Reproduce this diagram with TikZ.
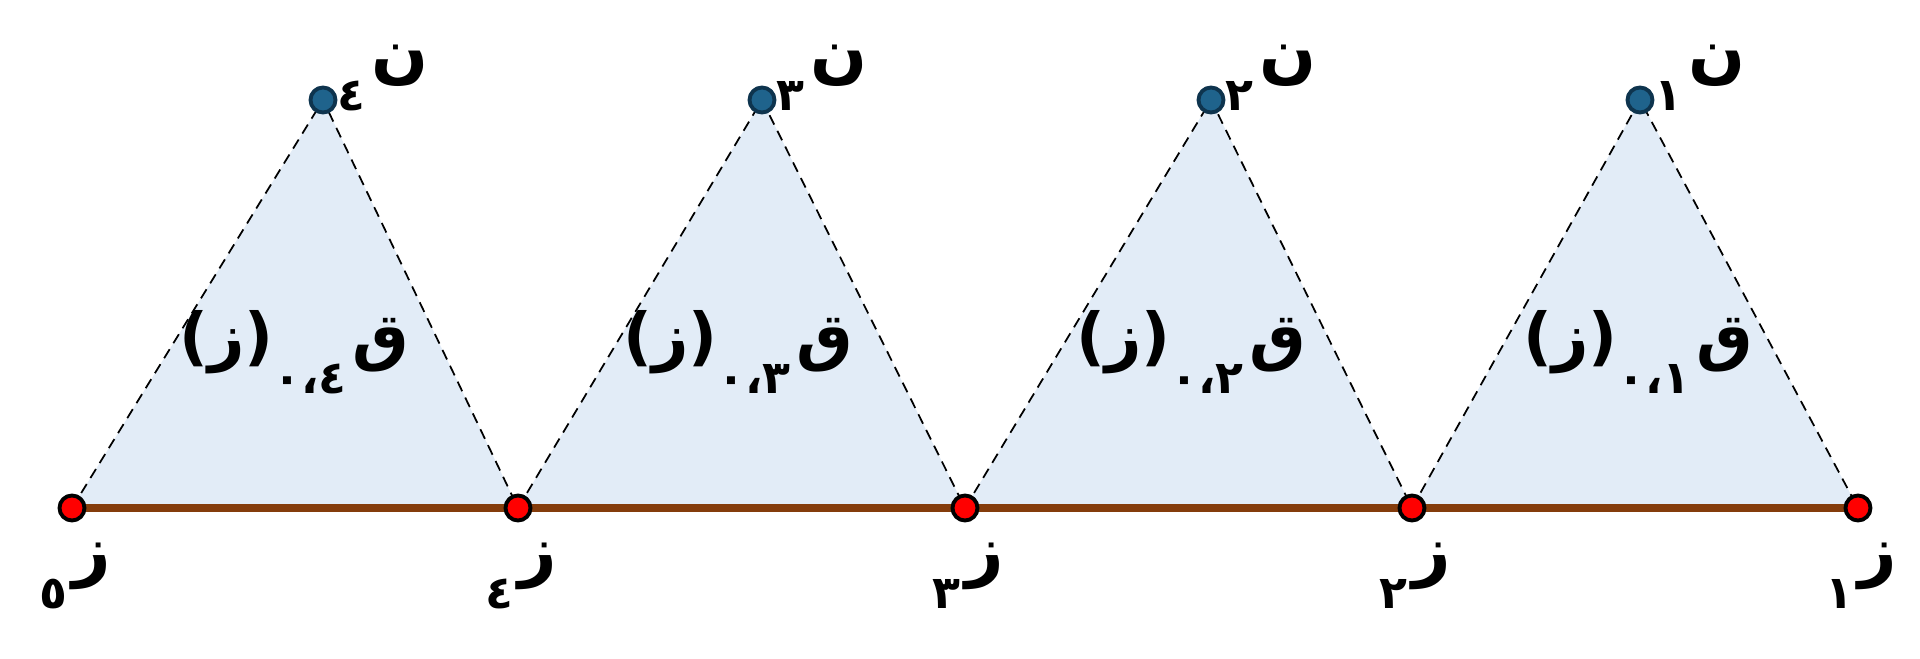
\documentclass[tikz,border=0pt]{standalone}
\usepackage{fontspec}
\usepackage{xcolor}
\usepackage{tikz}
\usetikzlibrary{positioning}
\TeXXeTstate=1
\newfontfamily\arabicfont[Script=Arabic]{DejaVu Sans}
\definecolor{triblue}{RGB}{226,236,247}
\definecolor{basebrown}{RGB}{132,60,12}
\definecolor{topfill}{RGB}{31,99,140}
\definecolor{topline}{RGB}{14,52,78}
\newcommand{\arsub}[1]{\kern1.5pt\raisebox{-10pt}{\fontsize{13}{15}\selectfont #1}}
\tikzset{
  zdot/.style={circle,fill=red,draw=black,line width=1.1pt,minimum size=0.25cm,inner sep=0pt},
  ndot/.style={circle,fill=topfill,draw=topline,line width=1.1pt,minimum size=0.25cm,inner sep=0pt},
  lbl/.style={font=\arabicfont\bfseries\fontsize{19}{22}\selectfont,inner sep=0pt},
  trilbl/.style={font=\arabicfont\bfseries\fontsize{18}{22}\selectfont,inner sep=0pt},
  side/.style={dash pattern=on 3pt off 2pt,line width=0.5pt},
}
\begin{document}
\begin{tikzpicture}[x=0.01cm,y=-0.01cm]
\useasboundingbox (0,0) rectangle (1920,659);
% base points z1..z5 (right to left) and tops n1..n4
\coordinate (z5) at (72,508);
\coordinate (z4) at (518,508);
\coordinate (z3) at (965,508);
\coordinate (z2) at (1412,508);
\coordinate (z1) at (1858,508);
\coordinate (n4) at (323,100);
\coordinate (n3) at (762,100);
\coordinate (n2) at (1211,100);
\coordinate (n1) at (1640,100);

% shaded triangles
\fill[triblue] (z5) -- (n4) -- (z4) -- cycle;
\fill[triblue] (z4) -- (n3) -- (z3) -- cycle;
\fill[triblue] (z3) -- (n2) -- (z2) -- cycle;
\fill[triblue] (z2) -- (n1) -- (z1) -- cycle;

% dashed sides
\draw[side] (z5) -- (n4) -- (z4);
\draw[side] (z4) -- (n3) -- (z3);
\draw[side] (z3) -- (n2) -- (z2);
\draw[side] (z2) -- (n1) -- (z1);

% base line
\draw[basebrown,line width=2.3pt] (z5) -- (z1);

% dots
\node[zdot] (pz5) at (z5) {};
\node[zdot] (pz4) at (z4) {};
\node[zdot] (pz3) at (z3) {};
\node[zdot] (pz2) at (z2) {};
\node[zdot] (pz1) at (z1) {};
\node[ndot] (pn4) at (n4) {};
\node[ndot] (pn3) at (n3) {};
\node[ndot] (pn2) at (n2) {};
\node[ndot] (pn1) at (n1) {};

% labels of base points
\node[lbl,below=0.2cm of pz5,xshift=1pt] (lz5) {\beginR ز\arsub{٥}\endR};
\node[lbl,below=0.2cm of pz4,xshift=1pt] (lz4) {\beginR ز\arsub{٤}\endR};
\node[lbl,below=0.2cm of pz3,xshift=1pt] (lz3) {\beginR ز\arsub{٣}\endR};
\node[lbl,below=0.2cm of pz2,xshift=1pt] (lz2) {\beginR ز\arsub{٢}\endR};
\node[lbl,below=0.2cm of pz1,xshift=1pt] (lz1) {\beginR ز\arsub{١}\endR};

% labels of tops
\node[lbl] (ln4) at ([shift={(60,-22)}]n4) {\beginR ن\arsub{٤}\endR};
\node[lbl] (ln3) at ([shift={(60,-22)}]n3) {\beginR ن\arsub{٣}\endR};
\node[lbl] (ln2) at ([shift={(60,-22)}]n2) {\beginR ن\arsub{٢}\endR};
\node[lbl] (ln1) at ([shift={(60,-22)}]n1) {\beginR ن\arsub{١}\endR};

% triangle texts
\node[trilbl] (q4) at (294,352) {\beginR ق\arsub{٠،٤}(ز)\endR};
\node[trilbl] (q3) at (738,352) {\beginR ق\arsub{٠،٣}(ز)\endR};
\node[trilbl] (q2) at (1191,352) {\beginR ق\arsub{٠،٢}(ز)\endR};
\node[trilbl] (q1) at (1638,352) {\beginR ق\arsub{٠،١}(ز)\endR};
\end{tikzpicture}
\end{document}
